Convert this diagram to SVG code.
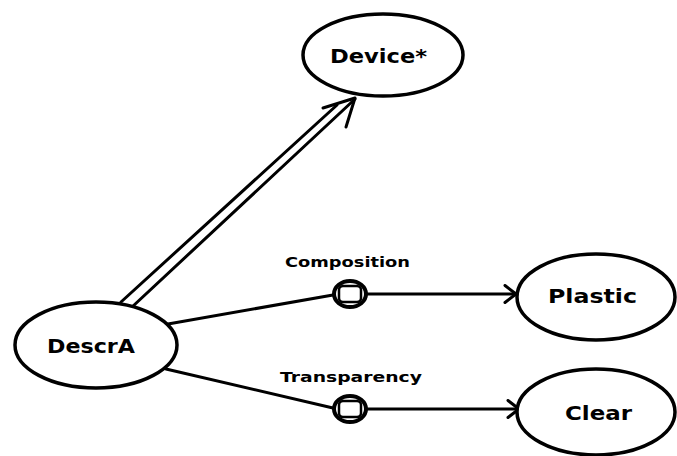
<svg xmlns="http://www.w3.org/2000/svg" width="677" height="456" viewBox="0 0 677 456">
  <style>
    .node { fill: #fff; stroke: #000; stroke-width: 3.5; }
    .label { font-family: "DejaVu Sans", "Liberation Sans", sans-serif; font-weight: bold; fill: #000; }
    .big { font-size: 20px; }
    .small { font-size: 14px; }
    .edge { fill: none; stroke: #000; stroke-width: 3; stroke-linecap: round; stroke-linejoin: round; }
    .knob { fill: #fff; stroke: #000; stroke-width: 4; }
    .knob-in { fill: #fff; stroke: #000; stroke-width: 2.5; }
  </style>
  <defs>
    <marker id="open" viewBox="0 0 14 20" refX="13" refY="10" markerWidth="14" markerHeight="20" markerUnits="userSpaceOnUse" orient="auto">
      <path d="M2,1.5 L13,10 L2,18.5" fill="none" stroke="#000" stroke-width="3" stroke-linecap="round" stroke-linejoin="round"/>
    </marker>
  </defs>

  <rect width="677" height="456" fill="#fff"/>

  <!-- connectors -->
  <g id="connectors">
    <!-- double-line generalization arrow DescrA to Device* -->
    <path class="edge" d="M121,302 L337,105"/>
    <path class="edge" d="M132,307 L355,99"/>
    <path class="edge" d="M323,108 L355,98 L346,127"/>

    <!-- Composition: DescrA to knob to Plastic -->
    <path class="edge" d="M168,324 L333,295"/>
    <path class="edge" d="M367,294 L516,294" marker-end="url(#open)"/>
    <g id="knob-composition">
      <ellipse class="knob" cx="350" cy="294" rx="16" ry="13"/>
      <rect class="knob-in" x="339" y="286" width="22" height="16" rx="4"/>
    </g>
    <text class="label small" x="285" y="267" textLength="125" lengthAdjust="spacingAndGlyphs">Composition</text>

    <!-- Transparency: DescrA to knob to Clear -->
    <path class="edge" d="M166,369 L333,408"/>
    <path class="edge" d="M367,409 L519,409" marker-end="url(#open)"/>
    <g id="knob-transparency">
      <ellipse class="knob" cx="350" cy="409" rx="16" ry="13"/>
      <rect class="knob-in" x="339" y="401" width="22" height="16" rx="4"/>
    </g>
    <text class="label small" x="280" y="382" textLength="142" lengthAdjust="spacingAndGlyphs">Transparency</text>
  </g>

  <!-- nodes -->
  <g id="device">
    <ellipse class="node" cx="383" cy="55" rx="80" ry="41"/>
    <text class="label big" x="330" y="63" textLength="97" lengthAdjust="spacingAndGlyphs">Device*</text>
  </g>
  <g id="descra">
    <ellipse class="node" cx="96" cy="345" rx="81" ry="43"/>
    <text class="label big" x="47" y="353" textLength="88" lengthAdjust="spacingAndGlyphs">DescrA</text>
  </g>
  <g id="plastic">
    <ellipse class="node" cx="596" cy="297" rx="79" ry="43"/>
    <text class="label big" x="548" y="303" textLength="89" lengthAdjust="spacingAndGlyphs">Plastic</text>
  </g>
  <g id="clear">
    <ellipse class="node" cx="596" cy="412" rx="79" ry="43"/>
    <text class="label big" x="565" y="420" textLength="67" lengthAdjust="spacingAndGlyphs">Clear</text>
  </g>
</svg>
